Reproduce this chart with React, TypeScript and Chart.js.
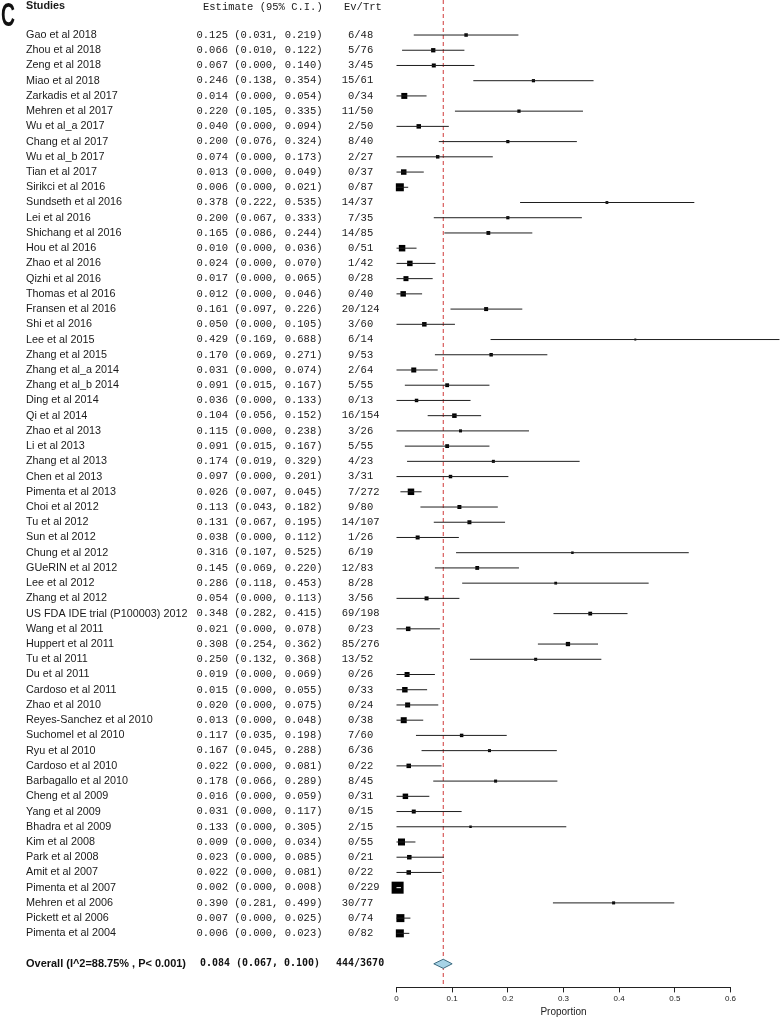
import React, { useEffect, useRef } from "react";
import { Chart, registerables } from "chart.js";

Chart.register(...registerables);

const studies = [
  "Gao et al 2018", "Zhou et al 2018", "Zeng et al 2018", "Miao et al 2018", "Zarkadis et al 2017",
  "Mehren et al 2017", "Wu et al_a 2017", "Chang et al 2017", "Wu et al_b 2017", "Tian et al 2017",
  "Sirikci et al 2016", "Sundseth et al 2016", "Lei et al 2016", "Shichang et al 2016", "Hou et al 2016",
  "Zhao et al 2016", "Qizhi et al 2016", "Thomas et al 2016", "Fransen et al 2016", "Shi et al 2016",
  "Lee et al 2015", "Zhang et al 2015", "Zhang et al_a 2014", "Zhang et al_b 2014", "Ding et al 2014",
  "Qi et al 2014", "Zhao et al 2013", "Li et al 2013", "Zhang et al 2013", "Chen et al 2013",
  "Pimenta et al 2013", "Choi et al 2012", "Tu et al 2012", "Sun et al 2012", "Chung et al 2012",
  "GUeRIN et al 2012", "Lee et al 2012", "Zhang et al 2012", "US FDA IDE trial (P100003) 2012", "Wang et al 2011",
  "Huppert et al 2011", "Tu et al 2011", "Du et al 2011", "Cardoso et al 2011", "Zhao et al 2010",
  "Reyes-Sanchez et al 2010", "Suchomel et al 2010", "Ryu et al 2010", "Cardoso et al 2010", "Barbagallo et al 2010",
  "Cheng et al 2009", "Yang et al 2009", "Bhadra et al 2009", "Kim et al 2008", "Park et al 2008",
  "Amit et al 2007", "Pimenta et al 2007", "Mehren et al 2006", "Pickett et al 2006", "Pimenta et al 2004",
];

const estimates = [
  0.125, 0.066, 0.067, 0.246, 0.014, 0.220, 0.040, 0.200, 0.074, 0.013,
  0.006, 0.378, 0.200, 0.165, 0.010, 0.024, 0.017, 0.012, 0.161, 0.050,
  0.429, 0.170, 0.031, 0.091, 0.036, 0.104, 0.115, 0.091, 0.174, 0.097,
  0.026, 0.113, 0.131, 0.038, 0.316, 0.145, 0.286, 0.054, 0.348, 0.021,
  0.308, 0.250, 0.019, 0.015, 0.020, 0.013, 0.117, 0.167, 0.022, 0.178,
  0.016, 0.031, 0.133, 0.009, 0.023, 0.022, 0.002, 0.390, 0.007, 0.006,
];

const lowerCI = [
  0.031, 0.010, 0.000, 0.138, 0.000, 0.105, 0.000, 0.076, 0.000, 0.000,
  0.000, 0.222, 0.067, 0.086, 0.000, 0.000, 0.000, 0.000, 0.097, 0.000,
  0.169, 0.069, 0.000, 0.015, 0.000, 0.056, 0.000, 0.015, 0.019, 0.000,
  0.007, 0.043, 0.067, 0.000, 0.107, 0.069, 0.118, 0.000, 0.282, 0.000,
  0.254, 0.132, 0.000, 0.000, 0.000, 0.000, 0.035, 0.045, 0.000, 0.066,
  0.000, 0.000, 0.000, 0.000, 0.000, 0.000, 0.000, 0.281, 0.000, 0.000,
];

const upperCI = [
  0.219, 0.122, 0.140, 0.354, 0.054, 0.335, 0.094, 0.324, 0.173, 0.049,
  0.021, 0.535, 0.333, 0.244, 0.036, 0.070, 0.065, 0.046, 0.226, 0.105,
  0.688, 0.271, 0.074, 0.167, 0.133, 0.152, 0.238, 0.167, 0.329, 0.201,
  0.045, 0.182, 0.195, 0.112, 0.525, 0.220, 0.453, 0.113, 0.415, 0.078,
  0.362, 0.368, 0.069, 0.055, 0.075, 0.048, 0.198, 0.288, 0.081, 0.289,
  0.059, 0.117, 0.305, 0.034, 0.085, 0.081, 0.008, 0.499, 0.025, 0.023,
];

const events = [
  6, 5, 3, 15, 0, 11, 2, 8, 2, 0,
  0, 14, 7, 14, 0, 1, 0, 0, 20, 3,
  6, 9, 2, 5, 0, 16, 3, 5, 4, 3,
  7, 9, 14, 1, 6, 12, 8, 3, 69, 0,
  85, 13, 0, 0, 0, 0, 7, 6, 0, 8,
  0, 0, 2, 0, 0, 0, 0, 30, 0, 0,
];

const totals = [
  48, 76, 45, 61, 34, 50, 50, 40, 27, 37,
  87, 37, 35, 85, 51, 42, 28, 40, 124, 60,
  14, 53, 64, 55, 13, 154, 26, 55, 23, 31,
  272, 80, 107, 26, 19, 83, 28, 56, 198, 23,
  276, 52, 26, 33, 24, 38, 60, 36, 22, 45,
  31, 15, 15, 55, 21, 22, 229, 77, 74, 82,
];

// relative study weights (box area proportional)
const weights = [
  2.5, 3.8, 3.3, 2.1, 7.4, 2.2, 4.2, 2.1, 2.5, 6.2,
  13.2, 1.6, 2.1, 3.0, 8.7, 6.2, 5.2, 6.2, 3.3, 4.2,
  0.8, 2.5, 5.2, 3.0, 2.5, 4.2, 1.9, 3.0, 1.9, 2.5,
  8.7, 3.3, 3.3, 3.3, 1.3, 3.0, 1.6, 3.3, 3.0, 4.2,
  3.8, 1.9, 5.2, 6.2, 5.2, 7.4, 2.5, 1.9, 4.2, 1.9,
  6.2, 3.3, 1.3, 10.1, 4.2, 4.2, 29.8, 1.9, 13.2, 13.2,
];

const overallLabel = "Overall (I^2=88.75% , P< 0.001)";
const overallEstimate = [0.084, 0.067, 0.100];
const overallCounts = [444, 3670];
const xTickValues = [0, 0.1, 0.2, 0.3, 0.4, 0.5, 0.6];

const Y_MIN = -2.3;
const Y_MAX = 62.55;
const HEADER_ROW = -1.9;
const OVERALL_ROW = studies.length + 1;

const NAME_X = 26;

const boxSide = (w: number) => 2.2 * Math.sqrt(w);

const fmt = (v: number) => v.toFixed(3);

const textPlugin = {
  id: "forestText",
  afterDraw(chart: any) {
    const { ctx, scales } = chart;
    const y = scales.y;
    ctx.save();
    ctx.textBaseline = "middle";
    ctx.textAlign = "left";
    ctx.fillStyle = "#111";
    ctx.font = 'bold 33px "Liberation Sans", Arial, sans-serif';
    ctx.fillText("C", 1, 17, 14);

    const yh = y.getPixelForValue(HEADER_ROW);
    ctx.font = 'bold 10.8px "Liberation Sans", Arial, sans-serif';
    ctx.fillStyle = "#1a1a1a";
    ctx.fillText("Studies", NAME_X, yh);
    ctx.font = '10.5px "Liberation Mono", "Courier New", monospace';
    ctx.fillText("Estimate (95% C.I.)", 203, yh + 1);
    ctx.fillText("Ev/Trt", 344, yh + 1);

    studies.forEach((name, i) => {
      const py = y.getPixelForValue(i);
      ctx.font = '10.8px "Liberation Sans", Arial, sans-serif';
      ctx.fillStyle = "#1a1a1a";
      ctx.fillText(name, NAME_X, py);
      ctx.font = '10.5px "Liberation Mono", "Courier New", monospace';
      ctx.fillText(`${fmt(estimates[i])} (${fmt(lowerCI[i])}, ${fmt(upperCI[i])})`, 196.5, py);
      ctx.fillText(`${String(events[i]).padStart(2, " ")}/${totals[i]}`, 341.7, py);
    });

    const po = y.getPixelForValue(OVERALL_ROW);
    ctx.fillStyle = "#111";
    ctx.font = 'bold 11px "Liberation Sans", Arial, sans-serif';
    ctx.fillText(overallLabel, NAME_X, po, 160);
    ctx.font = 'bold 10px "DejaVu Sans Mono", monospace';
    ctx.fillText(
      `${fmt(overallEstimate[0])} (${fmt(overallEstimate[1])}, ${fmt(overallEstimate[2])})`,
      200, po, 120
    );
    ctx.fillText(`${overallCounts[0]}/${overallCounts[1]}`, 336, po, 51);
    ctx.restore();
  },
};

export default function App() {
  const ref = useRef<HTMLCanvasElement | null>(null);

  useEffect(() => {
    if (!ref.current) return;

    const ciDatasets = studies.map((_, i) => {
      const side = boxSide(weights[i]);
      return {
        type: "line" as const,
        data: [
          { x: lowerCI[i], y: i },
          { x: upperCI[i], y: i },
        ],
        borderColor: (c: any) => {
          const xs = c.chart.scales.x;
          const w = xs.getPixelForValue(upperCI[i]) - xs.getPixelForValue(lowerCI[i]);
          return w < side ? "#ffffff" : "#1e1e1e";
        },
        borderWidth: 1,
        pointRadius: 0,
        showLine: true,
        clip: false as any,
        order: 0,
      };
    });

    const chart = new Chart(ref.current, {
      type: "scatter",
      data: {
        datasets: [
          ...ciDatasets,
          {
            type: "scatter" as const,
            data: estimates.map((e, i) => ({ x: e, y: i })),
            pointStyle: "rect",
            pointRadius: weights.map((w) => boxSide(w) / Math.SQRT2),
            backgroundColor: "#000",
            borderWidth: 0,
            clip: false as any,
            order: 2,
          },
          {
            type: "line" as const,
            data: [
              { x: overallEstimate[1], y: OVERALL_ROW },
              { x: overallEstimate[0], y: OVERALL_ROW - 0.3 },
              { x: overallEstimate[2], y: OVERALL_ROW },
              { x: overallEstimate[0], y: OVERALL_ROW + 0.3 },
              { x: overallEstimate[1], y: OVERALL_ROW },
            ],
            borderColor: "#3d6b80",
            backgroundColor: "#a7d3e6",
            borderWidth: 1,
            pointRadius: 0,
            fill: "shape" as any,
            showLine: true,
            order: 1,
          },
          {
            type: "line" as const,
            data: [
              { x: overallEstimate[0], y: Y_MIN },
              { x: overallEstimate[0], y: Y_MAX },
            ],
            borderColor: "#d03a3a",
            borderWidth: 1,
            borderDash: [4, 3],
            pointRadius: 0,
            showLine: true,
            order: 3,
          },
        ] as any,
      },
      options: {
        animation: false,
        responsive: false,
        devicePixelRatio: 1,
        events: [],
        layout: { autoPadding: false, padding: { left: 396.5, right: 49.5, top: 0, bottom: 0 } },
        plugins: { legend: { display: false }, tooltip: { enabled: false } },
        scales: {
          x: {
            type: "linear",
            position: "bottom",
            min: 0,
            max: 0.6,
            afterBuildTicks: (axis: any) => {
              axis.ticks = xTickValues.map((v) => ({ value: v }));
            },
            grid: {
              drawOnChartArea: false,
              drawTicks: true,
              tickLength: 5,
              color: "#222",
            },
            border: { display: true, color: "#222", width: 1 },
            ticks: {
              padding: 2,
              color: "#222",
              font: { family: '"Liberation Sans", Arial, sans-serif', size: 8 },
              callback: (v: any) => (Number(v) === 0 ? "0" : Number(v).toFixed(1)),
            },
            title: {
              display: true,
              text: "Proportion",
              color: "#222",
              font: { family: '"Liberation Sans", Arial, sans-serif', size: 10 },
              padding: { top: 0, bottom: 3 },
            },
          },
          y: {
            type: "linear",
            display: false,
            reverse: true,
            min: Y_MIN,
            max: Y_MAX,
          },
        },
      },
      plugins: [textPlugin],
    });

    return () => chart.destroy();
  }, []);

  return (
    <div style={{ position: "absolute", left: 0, top: 0, width: 780, height: 1021, background: "#fff" }}>
      <canvas ref={ref} width={780} height={1021} style={{ width: 780, height: 1021, display: "block" }} />
    </div>
  );
}
